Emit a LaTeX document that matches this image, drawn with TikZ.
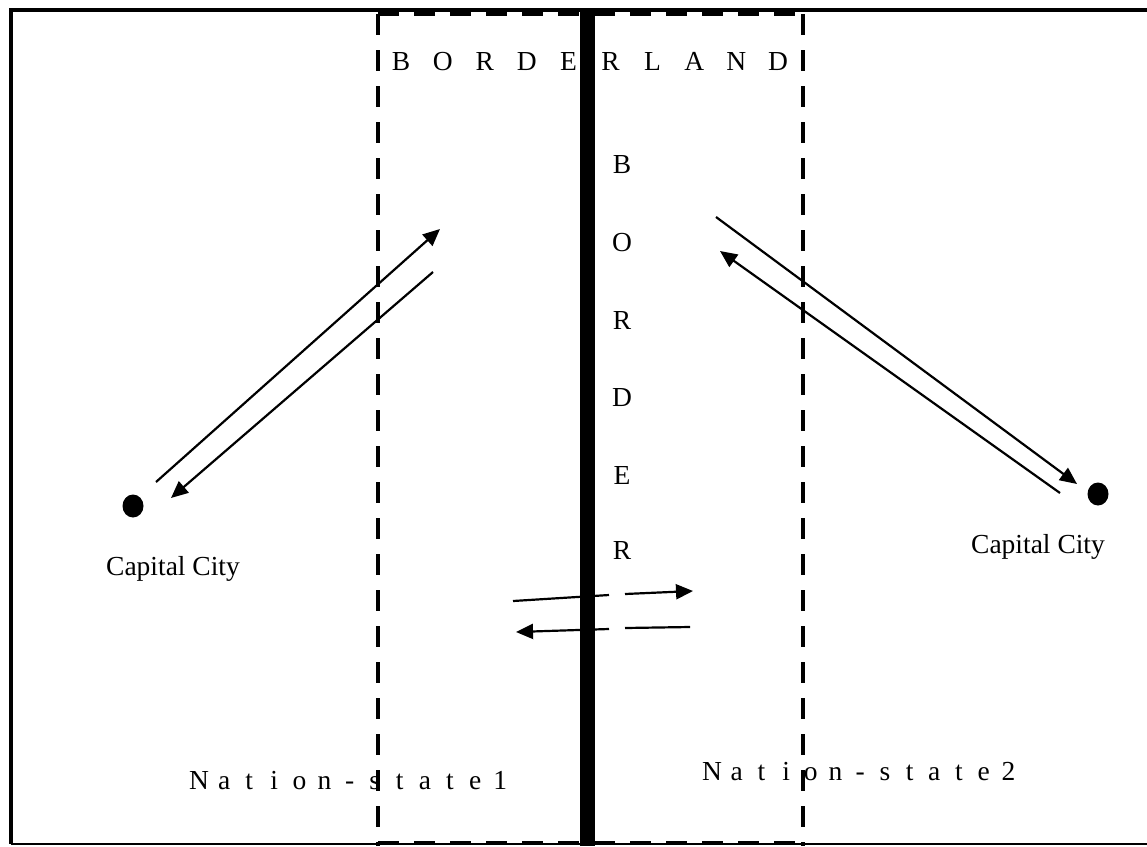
\documentclass[tikz,border=0pt]{standalone}
\usepackage{fontspec}
\setmainfont{Liberation Serif}
\usetikzlibrary{arrows.meta,shapes.geometric}
\begin{document}
\begin{tikzpicture}[x=1pt,y=-1pt,
  frame/.style={line width=3.5pt},
  zone/.style={line width=4pt,dash pattern=on 21pt off 15pt},
  borderline/.style={line width=15pt},
  flow/.style={line width=2.2pt,-{Triangle[length=17pt,width=15pt]}},
  plain/.style={line width=2.2pt},
  letter/.style={inner sep=0pt,anchor=base,font=\fontsize{27.5}{32}\selectfont},
  city/.style={inner sep=0pt,font=\fontsize{27.5}{32}\selectfont},
  dot/.style={fill=black,ellipse,minimum width=21pt,minimum height=23pt,inner sep=0pt}]
\useasboundingbox (0,0) rectangle (1147,846);
% outer frame
\draw[frame] (1160,10) -- (11,10) -- (11,844);
\draw[line width=2pt] (11,844) -- (1160,844);
% borderland dashed zone
\draw[zone] (378,14) -- (378,846);
\draw[zone] (803,14) -- (803,846);
\draw[zone] (378,14) -- (803,14);
\draw[zone] (378,843) -- (803,843);
% border
\draw[borderline] (587,12) -- (587,846);
% BORDERLAND
\foreach \c [count=\i] in {B,O,R,D,E,R,L,A,N,D}
  \node[letter] (bl\i) at ({401+(\i-1)*41.9},70) {\c};
% BORDER vertical
\foreach \c/\yy [count=\i] in {B/165,O/243,R/320,D/398,E/475,R/550}
  \node[letter,anchor=center] (bv\i) at (622,\yy) {\c};
% Nation-state labels
\foreach \c [count=\i] in {N,a,t,i,o,n,-,s,t,a,t,e,1}
  \node[letter] (na\i) at ({199+(\i-1)*25.1},789) {\c};
\foreach \c [count=\i] in {N,a,t,i,o,n,-,s,t,a,t,e,2}
  \node[letter] (nb\i) at ({712+(\i-1)*24.7},780) {\c};
% capital cities
\node[dot] (capL) at (133,506) {};
\node[dot] (capR) at (1098,494) {};
\node[city] (capLt) at (173,569) {Capital City};
\node[city] (capRt) at (1038,547) {Capital City};
% flows left
\coordinate (l1s) at (156,482); \coordinate (l1e) at (440,229);
\coordinate (l2s) at (433,272); \coordinate (l2e) at (171,498);
\draw[flow] (l1s) -- (l1e);
\draw[flow] (l2s) -- (l2e);
% flows right
\coordinate (r1s) at (716,217); \coordinate (r1e) at (1077,484);
\coordinate (r2s) at (1060,493); \coordinate (r2e) at (720,251);
\draw[flow] (r1s) -- (r1e);
\draw[flow] (r2s) -- (r2e);
% cross-border flows
\coordinate (c1a) at (513,601); \coordinate (c1b) at (609,595);
\coordinate (c1c) at (625,594); \coordinate (c1d) at (693,591);
\draw[plain] (c1a) -- (c1b);
\draw[flow] (c1c) -- (c1d);
\coordinate (c2a) at (690,627); \coordinate (c2b) at (625,628);
\coordinate (c2c) at (609,629); \coordinate (c2d) at (516,632);
\draw[plain] (c2a) -- (c2b);
\draw[flow] (c2c) -- (c2d);
\end{tikzpicture}
\end{document}
